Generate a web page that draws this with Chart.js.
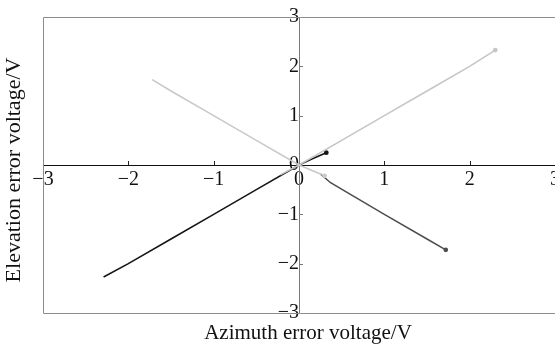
<!DOCTYPE html>
<html>
<head>
<meta charset="utf-8">
<script src="https://cdn.jsdelivr.net/npm/chart.js@4/dist/chart.umd.min.js"></script>
<style>
  html, body { margin: 0; padding: 0; background: #fff; overflow: hidden; }
  #wrap { width: 555px; height: 344px; position: relative; overflow: hidden; }
</style>
</head>
<body>
<div id="wrap"><canvas id="c" width="563" height="344"></canvas></div>
<script>
// Axis range and tick values (volts)
const axisMin = -3;
const axisMax = 3;
const tickValues = [-3, -2, -1, 0, 1, 2, 3];

// Trajectory rising to the upper right (light grey)
const upRightX = [-0.22, 0, 0.5, 1.0, 1.5, 2.0, 2.3];
const upRightY = [-0.2, 0, 0.5, 1.0, 1.5, 2.0, 2.33];

// Trajectory from the upper left through the origin (light grey)
const upLeftX = [-1.72, -1.5, -1.0, -0.5, 0, 0.3];
const upLeftY = [1.73, 1.5, 1.0, 0.5, 0, -0.22];

// Trajectory from the lower left (black)
const downLeftX = [-2.29, -2.0, -1.5, -1.0, -0.5, 0, 0.15, 0.32];
const downLeftY = [-2.27, -2.0, -1.5, -1.0, -0.5, 0, 0.12, 0.25];

// Trajectory to the lower right (dark grey)
const downRightX = [0.25, 0.37, 1.0, 1.5, 1.72];
const downRightY = [-0.18, -0.36, -1.0, -1.5, -1.72];

const xTitle = 'Azimuth error voltage/V';
const yTitle = 'Elevation error voltage/V';

const toPoints = (xs, ys) => xs.map((x, i) => ({ x, y: ys[i] }));
const endDot = ctx => (ctx.dataIndex === ctx.dataset.data.length - 1 ? 1.6 : 0);
const FONT = "'Liberation Serif', 'Times New Roman', serif";

function series(xs, ys, color, width) {
  return {
    data: toPoints(xs, ys),
    borderColor: color,
    backgroundColor: color,
    borderWidth: width,
    pointRadius: endDot,
    pointHoverRadius: 0,
    tension: 0,
    fill: false
  };
}

// Small inward tick marks on the crossing axes, frame and axis titles
const decorations = {
  id: 'decorations',
  beforeDatasetsDraw(chart) {
    const { ctx, chartArea: a, scales: { x, y } } = chart;
    const x0 = x.getPixelForValue(0);
    const y0 = y.getPixelForValue(0);
    ctx.save();
    // frame (left, top, bottom)
    ctx.strokeStyle = '#8c8c8c';
    ctx.lineWidth = 1;
    ctx.beginPath();
    ctx.moveTo(a.right + 2, Math.round(a.top) + 0.5);
    ctx.lineTo(Math.round(a.left) + 0.5, Math.round(a.top) + 0.5);
    ctx.lineTo(Math.round(a.left) + 0.5, Math.round(a.bottom) + 0.5);
    ctx.lineTo(a.right + 2, Math.round(a.bottom) + 0.5);
    ctx.stroke();
    // tick marks
    ctx.beginPath();
    ctx.strokeStyle = '#222';
    x.ticks.forEach(t => {
      if (t.value === axisMin || t.value === axisMax || t.value === 0) return;
      const px = Math.round(x.getPixelForValue(t.value)) + 0.5;
      ctx.moveTo(px, y0);
      ctx.lineTo(px, y0 - 4);
    });
    ctx.stroke();
    ctx.beginPath();
    ctx.strokeStyle = '#777';
    y.ticks.forEach(t => {
      if (t.value === axisMin || t.value === axisMax || t.value === 0) return;
      const py = Math.round(y.getPixelForValue(t.value)) + 0.5;
      ctx.moveTo(x0, py);
      ctx.lineTo(x0 + 4, py);
    });
    ctx.stroke();
    ctx.restore();
  },
  afterDraw(chart) {
    const { ctx } = chart;
    ctx.save();
    ctx.fillStyle = '#111';
    ctx.textAlign = 'center';
    ctx.textBaseline = 'middle';
    ctx.font = '21px ' + FONT;
    ctx.fillText(xTitle, 308, 333);
    ctx.font = '22px ' + FONT;
    ctx.translate(14, 170);
    ctx.rotate(-Math.PI / 2);
    ctx.fillText(yTitle, 0, 0);
    ctx.restore();
  }
};

new Chart(document.getElementById('c'), {
  type: 'line',
  data: {
    datasets: [
      series(upRightX, upRightY, '#c6c6c6', 1.6),
      series(upLeftX, upLeftY, '#c9c9c9', 1.6),
      series(downRightX, downRightY, '#4e4e4e', 1.5),
      series(downLeftX, downLeftY, '#151515', 1.6)
    ]
  },
  options: {
    responsive: false,
    animation: false,
    layout: { autoPadding: false, padding: { left: 43, top: 15, bottom: 31, right: 0 } },
    plugins: { legend: { display: false }, tooltip: { enabled: false } },
    scales: {
      x: {
        type: 'linear',
        position: { y: 0 },
        min: axisMin,
        max: axisMax,
        afterBuildTicks: s => { s.ticks = tickValues.map(v => ({ value: v })); },
        grid: { display: false, drawTicks: false },
        border: { display: true, color: '#111', width: 1 },
        ticks: {
          padding: 3,
          color: '#111',
          font: { family: FONT, size: 20 },
          maxRotation: 0,
          autoSkip: false,
          callback: v => String(v).replace('-', '\u2212')
        }
      },
      y: {
        type: 'linear',
        position: { x: 0 },
        min: axisMin,
        max: axisMax,
        afterBuildTicks: s => { s.ticks = tickValues.map(v => ({ value: v })); },
        grid: { display: false, drawTicks: false },
        border: { display: true, color: '#7a7a7a', width: 1 },
        ticks: {
          padding: 5,
          color: '#111',
          font: { family: FONT, size: 20 },
          autoSkip: false,
          callback: v => String(v).replace('-', '\u2212')
        }
      }
    }
  },
  plugins: [decorations]
});
</script>
</body>
</html>
